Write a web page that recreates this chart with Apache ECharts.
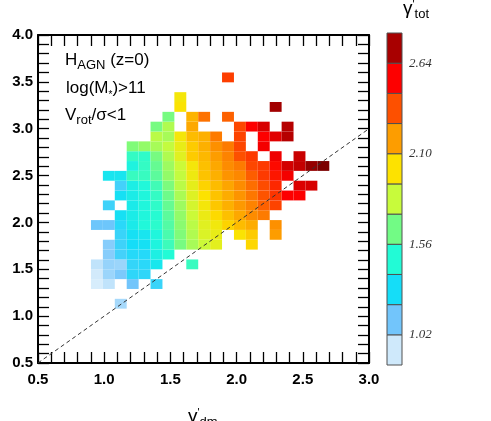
<!DOCTYPE html>
<html>
<head>
<meta charset="utf-8">
<script src="https://cdn.jsdelivr.net/npm/echarts@6/dist/echarts.min.js"></script>
<style>
  html, body { margin: 0; padding: 0; background: #fff; }
  #chart { width: 491px; height: 421px; }
</style>
</head>
<body>
<div id="chart"></div>
<script>
const _ = null;

// binning of the 2d histogram
const xBinLow = 0.90, xBinWidth = 0.09;
const yBinLow = 1.08, yBinWidth = 0.105;

// gamma_tot per cell, one row per y bin (bottom row first), 20 x bins each
const gammaTotRows = [
  [_, _, 1.01, _, _, _, _, _, _, _, _, _, _, _, _, _, _, _, _, _],
  [_, _, _, _, _, _, _, _, _, _, _, _, _, _, _, _, _, _, _, _],
  [0.88, 0.96, _, 1.11, _, 1.22, _, _, _, _, _, _, _, _, _, _, _, _, _, _],
  [0.91, 1.03, 1.09, 1.24, 1.24, _, _, _, _, _, _, _, _, _, _, _, _, _, _, _],
  [0.96, 1.04, 1.03, 1.23, 1.25, 1.35, _, _, 1.52, _, _, _, _, _, _, _, _, _, _, _],
  [_, 1.07, 1.20, 1.26, 1.26, 1.40, 1.47, _, _, _, _, _, _, _, _, _, _, _, _, _],
  [_, 1.07, 1.21, 1.29, 1.31, 1.43, 1.53, 1.66, 1.76, 1.84, 1.92, _, _, 2.04, _, _, _, _, _, _],
  [_, _, 1.22, 1.31, 1.34, 1.44, 1.56, 1.68, 1.78, 1.89, 1.94, _, 2.00, 2.07, _, 2.19, _, _, _, _],
  [1.12, 1.12, 1.25, 1.37, 1.45, 1.49, 1.58, 1.70, 1.80, 1.91, 1.97, 2.05, 2.11, 2.15, _, 2.22, _, _, _, _],
  [_, _, 1.31, 1.38, 1.44, 1.48, 1.60, 1.72, 1.84, 1.95, 2.03, 2.10, 2.16, 2.23, 2.27, _, _, _, _, _],
  [_, 1.21, _, 1.37, 1.44, 1.50, 1.62, 1.74, 1.87, 1.98, 2.08, 2.14, 2.20, 2.25, 2.33, 2.40, _, _, _, _],
  [_, _, 1.31, 1.38, 1.44, 1.51, 1.64, 1.77, 1.90, 2.01, 2.09, 2.15, 2.21, 2.28, 2.36, 2.43, 2.55, 2.55, _, _],
  [_, _, 1.20, 1.39, 1.45, 1.54, 1.67, 1.80, 1.93, 2.05, 2.11, 2.17, 2.23, 2.30, 2.38, 2.46, _, 2.62, 2.63, _],
  [_, 1.34, 1.34, 1.52, 1.52, 1.60, 1.72, 1.82, 1.96, 2.09, 2.14, 2.21, 2.24, 2.34, 2.42, 2.50, 2.57, _, _, _],
  [_, _, _, 1.42, 1.51, 1.62, 1.74, 1.84, 1.98, 2.10, 2.16, 2.23, 2.27, 2.39, 2.42, 2.53, 2.64, 2.67, 2.79, 2.87],
  [_, _, _, 1.51, 1.50, 1.66, 1.78, 1.91, 2.07, 2.12, 2.19, 2.25, 2.37, 2.42, _, 2.58, _, 2.66, _, _],
  [_, _, _, 1.68, 1.72, 1.76, 1.82, 1.94, 2.07, 2.14, 2.22, 2.27, 2.39, _, 2.57, _, _, _, _, _],
  [_, _, _, _, _, 1.80, 1.76, 1.98, 2.11, 2.14, 2.27, _, 2.40, _, 2.55, 2.61, 2.70, _, _, _],
  [_, _, _, _, _, 1.66, 1.78, _, 2.16, _, _, _, 2.39, 2.55, 2.63, _, 2.70, _, _, _],
  [_, _, _, _, _, _, 1.66, _, 2.13, 2.29, _, 2.33, _, _, _, _, _, _, _, _],
  [_, _, _, _, _, _, _, 2.00, _, _, _, _, _, _, _, 2.75, _, _, _, _],
  [_, _, _, _, _, _, _, 1.98, _, _, _, _, _, _, _, _, _, _, _, _],
  [_, _, _, _, _, _, _, _, _, _, _, _, _, _, _, _, _, _, _, _],
  [_, _, _, _, _, _, _, _, _, _, _, 2.41, _, _, _, _, _, _, _, _]
];

// y = x reference line
const diagonal = [0.5, 3.0];

// colour scale
const levelEdges = [0.84, 1.02, 1.20, 1.38, 1.56, 1.74, 1.92, 2.10, 2.28, 2.46, 2.64, 2.82];
const levelTicks = [1.02, 1.56, 2.10, 2.64];
const bandColors = ['#cfe9fb', '#72c5fb', '#15ddf8', '#22fbd6', '#72fb85', '#c8fb3b',
                    '#fde200', '#fd9d00', '#fd5000', '#fd0000', '#a80000'];
const paletteColors = ['#eaf6fe'].concat(bandColors, ['#700000']);
const paletteMin = 0.75, paletteMax = 2.91;

const cells = [];
gammaTotRows.forEach((row, j) => {
  row.forEach((v, i) => {
    if (v !== null) {
      cells.push([xBinLow + (i + 0.5) * xBinWidth, yBinLow + (j + 0.5) * yBinWidth, v]);
    }
  });
});

const bands = bandColors.map((c, k) => [k, levelEdges[k], levelEdges[k + 1]]);

const chart = echarts.init(document.getElementById('chart'));

const font = 'Liberation Sans';

function frameAxis(extra) {
  return Object.assign({
    type: 'value',
    gridIndex: 0,
    axisLine: { show: true, onZero: false, lineStyle: { color: '#000', width: 2 } },
    axisTick: { show: true, inside: true, length: 11, lineStyle: { color: '#000', width: 1.3 } },
    minorTick: { show: true, splitNumber: 5, length: 11, lineStyle: { color: '#000', width: 1.3 } },
    splitLine: { show: false },
    minorSplitLine: { show: false }
  }, extra);
}

const labelStyle = {
  show: true,
  fontFamily: font,
  fontWeight: 'bold',
  fontSize: 15,
  color: '#000',
  showMinLabel: true,
  showMaxLabel: true,
  formatter: v => v.toFixed(1)
};

// rich text pieces: main text and a lowered subscript
function richText(x, y, text, subSize, subLine) {
  return {
    type: 'text', x: x, y: y, z: 10,
    style: {
      text: text, align: 'left', verticalAlign: 'top',
      rich: {
        m: { fontFamily: font, fontSize: 17, lineHeight: 20, verticalAlign: 'top', fill: '#000' },
        s: { fontFamily: font, fontSize: subSize, lineHeight: subLine, verticalAlign: 'bottom', fill: '#000' }
      }
    }
  };
}

function gammaTitle(x, y, sub) {
  return {
    type: 'text', x: x, y: y, z: 10,
    style: {
      text: '{g|γ}{p|\'}{s|' + sub + '}', align: 'left', verticalAlign: 'top',
      rich: {
        g: { fontFamily: font, fontSize: 19, lineHeight: 22, verticalAlign: 'top', fill: '#000' },
        p: { fontFamily: font, fontSize: 11, lineHeight: 22, verticalAlign: 'top', fill: '#000' },
        s: { fontFamily: font, fontSize: 13, lineHeight: 20, verticalAlign: 'bottom', fill: '#000' }
      }
    }
  };
}

const option = {
  backgroundColor: '#fff',
  animation: false,
  grid: [
    { left: 38, top: 35, width: 331, height: 328 },
    { left: 387, top: 33, width: 15, height: 332 }
  ],
  xAxis: [
    frameAxis({ position: 'bottom', min: 0.5, max: 3.0, interval: 0.5,
      axisLabel: Object.assign({}, labelStyle, { margin: 9 }) }),
    frameAxis({ position: 'top', min: 0.5, max: 3.0, interval: 0.5, axisLabel: { show: false } }),
    { type: 'value', gridIndex: 1, min: 0, max: 1, show: false }
  ],
  yAxis: [
    frameAxis({ position: 'left', min: 0.5, max: 4.0, interval: 0.5,
      axisLabel: Object.assign({}, labelStyle, { margin: 5 }) }),
    frameAxis({ position: 'right', min: 0.5, max: 4.0, interval: 0.5, axisLabel: { show: false } }),
    {
      type: 'value', gridIndex: 1, position: 'right',
      min: levelEdges[0], max: levelEdges[levelEdges.length - 1],
      axisLine: { show: false },
      splitLine: { show: false },
      axisTick: { show: true, customValues: levelTicks, length: 4, lineStyle: { color: '#444' } },
      axisLabel: {
        show: true, customValues: levelTicks, margin: 7,
        fontFamily: 'Liberation Serif', fontStyle: 'italic', fontSize: 13, color: '#333',
        formatter: v => v.toFixed(2)
      }
    }
  ],
  visualMap: {
    type: 'continuous',
    show: false,
    seriesIndex: 0,
    dimension: 2,
    min: paletteMin,
    max: paletteMax,
    inRange: { color: paletteColors }
  },
  series: [
    {
      type: 'custom',
      xAxisIndex: 0,
      yAxisIndex: 0,
      clip: true,
      encode: { x: 0, y: 1 },
      data: cells,
      renderItem: (params, api) => {
        const x = api.value(0), y = api.value(1);
        const p0 = api.coord([x - xBinWidth / 2, y + yBinWidth / 2]);
        const p1 = api.coord([x + xBinWidth / 2, y - yBinWidth / 2]);
        return {
          type: 'rect',
          shape: { x: p0[0], y: p0[1], width: p1[0] - p0[0], height: p1[1] - p0[1] },
          style: { fill: api.visual('color') }
        };
      }
    },
    {
      type: 'line',
      xAxisIndex: 0,
      yAxisIndex: 0,
      data: diagonal.map(v => [v, v]),
      symbol: 'none',
      z: 5,
      lineStyle: { color: '#333', width: 1, type: [4, 3] }
    },
    {
      type: 'custom',
      xAxisIndex: 2,
      yAxisIndex: 2,
      encode: { y: [1, 2] },
      data: bands,
      renderItem: (params, api) => {
        const p0 = api.coord([0, api.value(2)]);
        const p1 = api.coord([1, api.value(1)]);
        return {
          type: 'rect',
          shape: { x: p0[0], y: p0[1], width: p1[0] - p0[0], height: p1[1] - p0[1] },
          style: { fill: bandColors[api.value(0)], stroke: '#505050', lineWidth: 1 }
        };
      }
    }
  ],
  graphic: [
    richText(65, 52, '{m|H}{s|AGN}{m| (z=0)}', 13, 18),
    richText(66, 80, '{m|log(M}{s|*}{m|)>11}', 10, 14),
    richText(65, 107, '{m|V}{s|rot}{m|/σ<1}', 13, 17),
    gammaTitle(403, -1, 'tot'),
    gammaTitle(188, 407, 'dm')
  ]
};

chart.setOption(option);
</script>
</body>
</html>
